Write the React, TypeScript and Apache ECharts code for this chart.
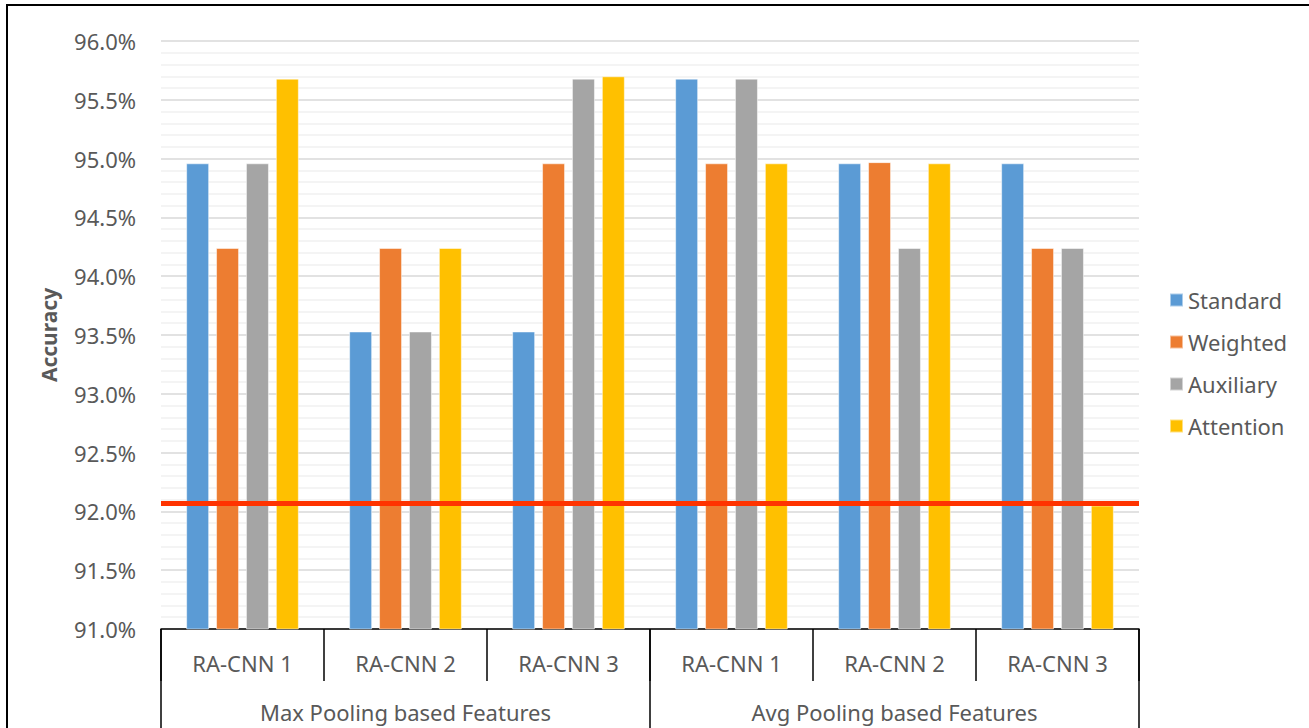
import React, { useEffect, useRef } from "react";
import * as echarts from "echarts";

const categories = ["RA-CNN 1", "RA-CNN 2", "RA-CNN 3", "RA-CNN 1", "RA-CNN 2", "RA-CNN 3"];
const groups = ["Max Pooling based Features", "Avg Pooling based Features"];
const standard = [94.96, 93.53, 93.53, 95.68, 94.96, 94.96];
const weighted = [94.24, 94.24, 94.96, 94.96, 94.97, 94.24];
const auxiliary = [94.96, 93.53, 95.68, 95.68, 94.24, 94.24];
const attention = [95.68, 94.24, 95.7, 94.96, 94.96, 92.05];
const baseline = 92.07;
const seriesNames = ["Standard", "Weighted", "Auxiliary", "Attention"];
const colors = ["#5B9BD5", "#ED7D31", "#A5A5A5", "#FFC000"];

const FONT = "Noto Sans";
const TXT = "#595959";

export default function App() {
  const ref = useRef<HTMLDivElement>(null);
  useEffect(() => {
    if (!ref.current) return;
    const chart = echarts.init(ref.current, undefined, { renderer: "svg" });
    const data = [standard, weighted, auxiliary, attention];
    const bars = data.map((d, i) => ({
      name: seriesNames[i],
      type: "bar",
      data: d,
      barWidth: 23,
      barGap: "30%",
      itemStyle: { color: colors[i], borderColor: "rgba(255,255,255,0.5)", borderWidth: 1 },
      z: 2,
    }));
    chart.setOption({
      animation: false,
      color: colors,
      textStyle: { fontFamily: FONT },
      graphic: [
        {
          type: "rect",
          shape: { x: 7, y: 5, width: 1400, height: 800 },
          style: { fill: "none", stroke: "#000", lineWidth: 2 },
          z: 100,
        },
      ],
      grid: { left: 161, top: 41, width: 978, height: 588 },
      legend: {
        orient: "vertical",
        left: 1164,
        top: 283,
        itemWidth: 13,
        itemHeight: 13,
        itemGap: 18,
        icon: "rect",
        data: seriesNames,
        textStyle: { color: TXT, fontSize: 22, fontFamily: FONT, lineHeight: 24 },
      },
      xAxis: [
        {
          type: "category",
          data: categories,
          position: "bottom",
          axisLine: { show: true, lineStyle: { color: "#000", width: 1.5 } },
          axisTick: { show: true, interval: 0, length: 52, lineStyle: { color: "#000", width: 1.5 } },
          axisLabel: { interval: 0, margin: 23, color: TXT, fontSize: 22, fontFamily: FONT },
        },
        {
          type: "category",
          data: groups,
          position: "bottom",
          offset: 0,
          axisLine: { show: false },
          axisTick: { show: true, interval: 0, length: 120, lineStyle: { color: "#000", width: 1.5 } },
          axisLabel: { interval: 0, margin: 72, color: TXT, fontSize: 22, fontFamily: FONT },
        },
      ],
      yAxis: {
        type: "value",
        min: 91,
        max: 96,
        interval: 0.5,
        name: "Accuracy",
        nameLocation: "middle",
        nameGap: 102,
        nameRotate: 90,
        nameTextStyle: { color: TXT, fontSize: 21, fontWeight: "bold", fontFamily: FONT },
        axisLine: { show: false },
        axisTick: { show: false },
        axisLabel: {
          margin: 25,
          color: TXT,
          fontSize: 22,
          fontFamily: FONT,
          formatter: (v: number) => v.toFixed(1) + "%",
        },
        splitLine: { show: true, lineStyle: { color: "#D9D9D9", width: 1.5 } },
        minorTick: { show: false, splitNumber: 5 },
        minorSplitLine: { show: true, lineStyle: { color: "#F0F0F0", width: 1.5 } },
      },
      series: [
        ...bars,
        {
          name: "baseline",
          type: "line",
          data: [],
          z: 10,
          silent: true,
          markLine: {
            symbol: "none",
            silent: true,
            label: { show: false },
            lineStyle: { color: "#FF3300", width: 5, type: "solid" },
            data: [{ yAxis: baseline }],
            z: 10,
          },
        },
      ],
    });
    return () => chart.dispose();
  }, []);
  return (
    <div
      ref={ref}
      style={{ position: "fixed", left: 0, top: 0, width: 1309, height: 728, background: "#fff" }}
    />
  );
}
